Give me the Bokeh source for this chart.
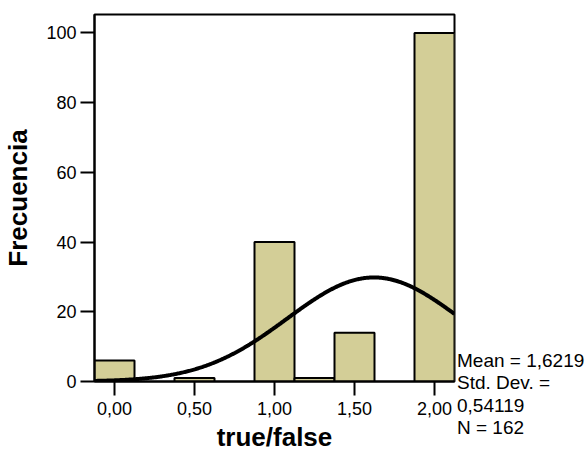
import numpy as np
from bokeh.plotting import figure
from bokeh.layouts import row
from bokeh.models import FixedTicker, Range1d, Div
from bokeh.embed import file_html
from bokeh.resources import INLINE

# Histogram of the true/false variable: bin centres and frequencies
bin_centers = [0.0, 0.5, 1.0, 1.25, 1.5, 2.0]
counts = [6, 1, 40, 1, 14, 100]
bin_width = 0.25

x_ticks = [0.0, 0.5, 1.0, 1.5, 2.0]
x_tick_labels = ["0,00", "0,50", "1,00", "1,50", "2,00"]
y_ticks = [0, 20, 40, 60, 80, 100]

# Summary statistics of the variable
mean = 1.6219
std_dev = 0.54119
n_obs = 162

x_title = "true/false"
y_title = "Frecuencia"

FONT = "Liberation Sans"
BAR_COLOR = "#D3CE97"

x_lo, x_hi = -0.125, 2.125
MAIN_W = 456
TOTAL_W, TOTAL_H = 585, 454


def es_num(v, digits):
    return f"{v:.{digits}f}".replace(".", ",")


stat_lines = [f"Mean = {es_num(mean, 4)}", "Std. Dev. =", es_num(std_dev, 5), f"N = {n_obs}"]

# ---- main histogram -------------------------------------------------------
p = figure(
    width=MAIN_W, height=TOTAL_H,
    output_backend="svg", toolbar_location=None,
    x_range=Range1d(x_lo, x_hi), y_range=Range1d(0, 105.3),
    min_border_left=91, min_border_right=2,
    min_border_top=14, min_border_bottom=TOTAL_H - 381,
)

p.vbar(x=bin_centers, top=counts, width=bin_width, bottom=0,
       fill_color=BAR_COLOR, line_color="black", line_width=2)

# Normal curve scaled to the histogram (N * bin width)
xs = np.linspace(x_lo, x_hi, 400)
ys = n_obs * bin_width / (std_dev * np.sqrt(2 * np.pi)) * np.exp(-0.5 * ((xs - mean) / std_dev) ** 2)
p.line(xs, ys, line_color="black", line_width=4)

p.outline_line_color = "black"
p.outline_line_width = 2
p.outline_line_alpha = 1
p.xgrid.visible = False
p.ygrid.visible = False
p.background_fill_color = "white"
p.border_fill_color = "white"

p.xaxis.ticker = FixedTicker(ticks=x_ticks)
p.xaxis.major_label_overrides = {t: lab for t, lab in zip(x_ticks, x_tick_labels)}
p.yaxis.ticker = FixedTicker(ticks=y_ticks)

for ax in (p.xaxis[0], p.yaxis[0]):
    ax.axis_line_color = "black"
    ax.axis_line_width = 2
    ax.major_tick_line_color = "black"
    ax.major_tick_line_width = 2
    ax.major_tick_in = 0
    ax.major_tick_out = 14
    ax.minor_tick_line_color = None
    ax.major_label_text_font = FONT
    ax.major_label_text_font_size = "18px"
    ax.major_label_text_color = "black"
    ax.axis_label_text_font = FONT
    ax.axis_label_text_font_size = "26px"
    ax.axis_label_text_font_style = "bold"
    ax.axis_label_text_color = "black"

p.xaxis.axis_label = x_title
p.xaxis.major_label_standoff = 6
p.xaxis.axis_label_standoff = 4
p.yaxis.axis_label = y_title
p.yaxis.major_label_standoff = 4
p.yaxis.axis_label_standoff = 10

# ---- statistics block right of the histogram ------------------------------
stats_top = 350
stats_html = (
    f'<div style="font-family:\'{FONT}\';font-size:19px;line-height:22.3px;'
    f'color:black;white-space:nowrap;margin:0;padding:0">'
    + "<br>".join(stat_lines)
    + "</div>"
)
stats = Div(text=stats_html, width=TOTAL_W - MAIN_W - 1, height=TOTAL_H - stats_top,
            margin=(stats_top, 0, 0, 1))

layout = row(p, stats, spacing=0)

open("out.html", "w").write(file_html(layout, INLINE))
